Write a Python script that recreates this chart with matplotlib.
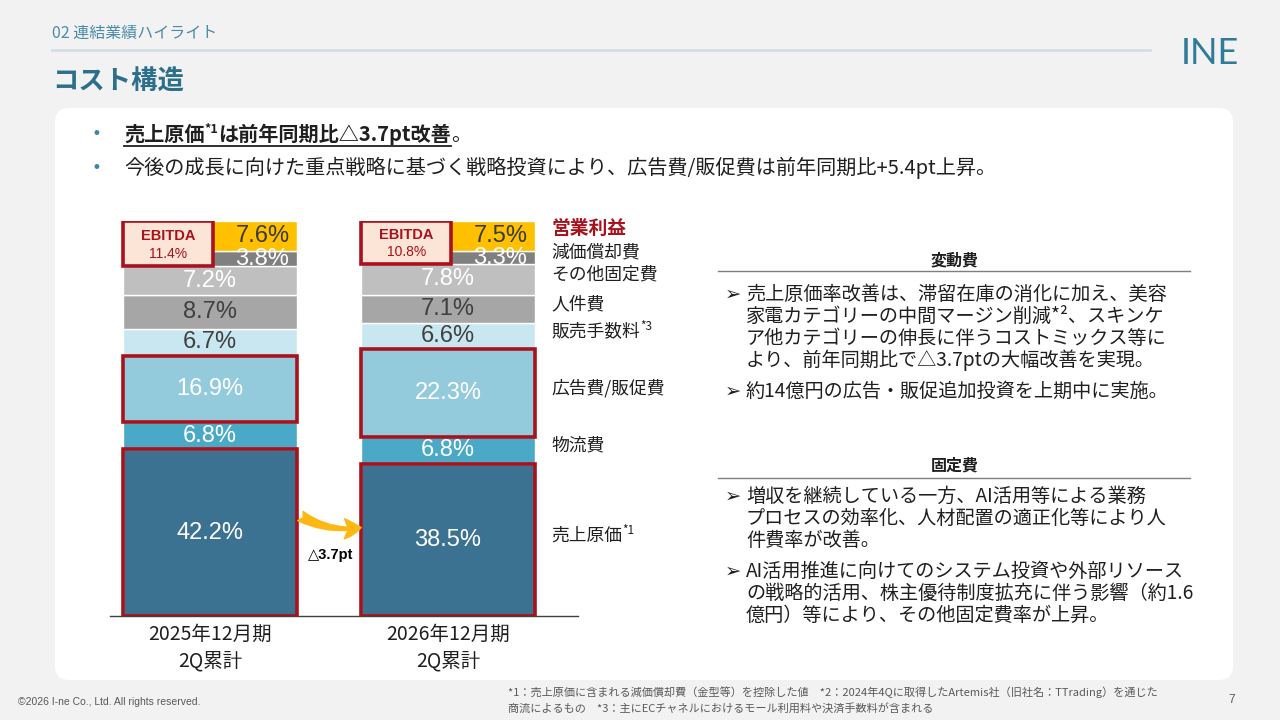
import matplotlib
matplotlib.use('Agg')
import matplotlib.pyplot as plt
from matplotlib.patches import Rectangle, FancyBboxPatch, FancyArrowPatch
import numpy as np

JP = ['Noto Sans CJK JP', 'DejaVu Sans']
NUM = ['Liberation Sans', 'DejaVu Sans']
SYM = ['DejaVu Sans', 'Noto Sans CJK JP']

# ---------------- data ----------------
periods = ['2025年12月期\n2Q累計', '2026年12月期\n2Q累計']
cost_items = ['売上原価', '物流費', '広告費/販促費', '販売手数料', '人件費',
              'その他固定費', '減価償却費', '営業利益']
item_notes = ['*1', '', '', '*3', '', '', '', '']
ratio_2025 = [42.2, 6.8, 16.9, 6.7, 8.7, 7.2, 3.8, 7.6]
ratio_2026 = [38.5, 6.8, 22.3, 6.6, 7.1, 7.8, 3.3, 7.5]

variable_bullet1 = ['売上原価率改善は、滞留在庫の消化に加え、美容',
                    '家電カテゴリーの中間マージン削減*²、スキンケ',
                    'ア他カテゴリーの伸長に伴うコストミックス等に',
                    'より、前年同期比で△{d}ptの大幅改善を実現。']
variable_bullet2 = ['約14億円の広告・販促追加投資を上期中に実施。']
fixed_bullet1 = ['増収を継続している一方、AI活用等による業務',
                 'プロセスの効率化、人材配置の適正化等により人',
                 '件費率が改善。']
fixed_bullet2 = ['AI活用推進に向けてのシステム投資や外部リソース',
                 'の戦略的活用、株主優待制度拡充に伴う影響（約1.6',
                 '億円）等により、その他固定費率が上昇。']
footnote_lines = ['*1：売上原価に含まれる減価償却費（金型等）を控除した値　*2：2024年4Qに取得したArtemis社（旧社名：TTrading）を通じた',
                  '商流によるもの　*3：主にECチャネルにおけるモール利用料や決済手数料が含まれる']

# ---------------- styles ----------------
seg_colors = ['#3B7191', '#4BA9C8', '#93CADC', '#C9E7F1', '#A6A6A6',
              '#BFBFBF', '#808080', '#FFC000']
label_colors = ['white', 'white', 'white', '#404040', '#404040',
                'white', 'white', '#3A3A3A']
RED = '#A8121C'
TEAL = '#2B6F8C'
TXT = '#1F1F1F'

fig = plt.figure(figsize=(12.8, 7.2), dpi=100)
fig.patch.set_facecolor('#F2F2F2')
bg = fig.add_axes([0, 0, 1, 1])
bg.set_xlim(0, 1280)
bg.set_ylim(720, 0)
bg.axis('off')
bg.set_zorder(0)

bg.add_patch(FancyBboxPatch((55, 108), 1178, 572,
                            boxstyle='round,pad=0,rounding_size=14',
                            fc='white', ec='none'))

# header
bg.text(52, 33, '02 連結業績ハイライト', family=JP, fontsize=11.5,
        color='#4A8CA8', va='center', ha='left')
bg.plot([52, 1150], [50, 50], color='#D3DFE4', lw=2)
bg.text(52, 82, 'コスト構造', family=JP, fontsize=19, fontweight='bold',
        color=TEAL, va='center', ha='left')
bg.text(1210, 54, 'INE', family=['Lato', 'DejaVu Sans'], fontweight='normal',
        fontsize=26, color='#2F7C99', va='center', ha='center')

renderer = fig.canvas.get_renderer()


def put_runs(x, y, runs, **kw):
    cur = x
    for s, opts in runs:
        o = dict(kw)
        o.update(opts)
        dy = o.pop('dy', 0)
        t = bg.text(cur, y + dy, s, ha='left', **o)
        bb = t.get_window_extent(renderer=renderer)
        cur += bb.width
    return cur


cogs_delta = ratio_2025[0] - ratio_2026[0]
ads_delta = ratio_2026[2] - ratio_2025[2]

# top bullets
for yy in (134, 168):
    bg.text(92, yy, '•', family=SYM, fontsize=12, color='#3E86A6',
            va='center', ha='left')
end_u = put_runs(124, 141, [('売上原価', {}),
                            ('*1', {'fontsize': 9, 'dy': -8}),
                            (f'は前年同期比△{cogs_delta:.1f}pt改善', {})],
                 family=JP, fontsize=14.5, fontweight='bold', color=TXT,
                 va='baseline')
bg.plot([124, end_u], [146, 146], color=TXT, lw=1.3)
bg.text(end_u, 141, '。', family=JP, fontsize=14.5, color=TXT,
        va='baseline', ha='left')
bg.text(124, 168,
        f'今後の成長に向けた重点戦略に基づく戦略投資により、広告費/販促費は前年同期比+{ads_delta:.1f}pt上昇。',
        family=JP, fontsize=14.5, color=TXT, va='center', ha='left')

# ---------------- chart ----------------
ax = fig.add_axes([110 / 1280, 104 / 720, 468 / 1280, 395 / 720])
ax.patch.set_alpha(0)
ax.set_zorder(2)
values = np.array([ratio_2025, ratio_2026])
bottoms = np.hstack([np.zeros((2, 1)), np.cumsum(values, axis=1)[:, :-1]])
xpos = np.arange(len(periods))
width = 0.727
for j in range(len(cost_items)):
    ax.bar(xpos, values[:, j], width, bottom=bottoms[:, j],
           color=seg_colors[j], edgecolor='white', linewidth=1, zorder=2)
ax.set_xlim(-0.4202, 1.5462)
ax.set_ylim(0, 100)

for i in range(len(periods)):
    for j in range(len(cost_items)):
        v = values[i, j]
        cy = bottoms[i, j] + v / 2
        dx = 0.22 if j >= 6 else 0
        ax.text(xpos[i] + dx, cy, f'{v:.1f}%', family=NUM, fontsize=17,
                color=label_colors[j], ha='center', va='center', zorder=6)
    for j in (0, 2):
        ax.add_patch(Rectangle((xpos[i] - width / 2, bottoms[i, j]), width,
                               values[i, j], fill=False, ec=RED, lw=2.6,
                               zorder=4))
    ebitda = values[i, 6] + values[i, 7]
    top = bottoms[i, 7] + values[i, 7]
    bw = 0.378
    ax.add_patch(Rectangle((xpos[i] - width / 2, top - ebitda), bw, ebitda,
                           fc='#FCE4D6', ec=RED, lw=2.6, zorder=5))
    ex = xpos[i] - width / 2 + bw / 2
    ax.text(ex, top - ebitda * 0.32, 'EBITDA', family=NUM, fontsize=10.5,
            fontweight='bold', color=RED, ha='center', va='center', zorder=6)
    ax.text(ex, top - ebitda * 0.72, f'{ebitda:.1f}%', family=NUM,
            fontsize=10, color=RED, ha='center', va='center', zorder=6)

for s in ('top', 'right', 'left'):
    ax.spines[s].set_visible(False)
ax.spines['bottom'].set_color('#404040')
ax.spines['bottom'].set_linewidth(1)
ax.set_yticks([])
ax.set_xticks(xpos)
ax.set_xticklabels(periods, family=JP, fontsize=14, color=TXT,
                   linespacing=1.35)
ax.tick_params(axis='x', length=0, pad=6)

# change arrow
arrow = FancyArrowPatch((0.38, 25.3), (0.635, 22.4),
                        connectionstyle='arc3,rad=0.18',
                        arrowstyle='fancy,head_length=0.5,head_width=0.6,tail_width=0.32',
                        mutation_scale=24, color='#FDB813', zorder=5,
                        shrinkA=0, shrinkB=0)
ax.add_patch(arrow)
ax.text(0.508, 15.4, f'△{cogs_delta:.1f}pt', family=NUM, fontsize=10.5,
        fontweight='bold', color='black', ha='center', va='center')

# category labels right of chart
inv = bg.transData.inverted()
for j in range(len(cost_items)):
    cy = bottoms[1, j] + values[1, j] / 2 + (2.0 if j == 7 else 1.2)
    px, py = inv.transform(ax.transData.transform((1.433, cy)))
    if j == 7:
        bg.text(px, py, cost_items[j], family=JP, fontsize=13.5,
                fontweight='bold', color=RED, va='center', ha='left',
                zorder=3)
    else:
        runs = [(cost_items[j], {})]
        if item_notes[j]:
            runs.append((item_notes[j], {'fontsize': 8.5, 'dy': -5}))
        put_runs(px, py, runs, family=JP, fontsize=12.8, color=TXT,
                 va='center')

# ---------------- right commentary ----------------
def section(title, y_title, y_line, blocks):
    bg.text(955, y_title, title, family=JP, fontsize=11.5, fontweight='bold',
            color=TXT, va='center', ha='center')
    bg.plot([718, 1190], [y_line, y_line], color='#7F7F7F', lw=1)
    for y0, lines in blocks:
        bg.text(733, y0, '➢', family=SYM, fontsize=14, color=TXT,
                va='center', ha='center')
        for k, ln in enumerate(lines):
            bg.text(746, y0 + 22 * k, ln, family=JP, fontsize=13.8,
                    color=TXT, va='center', ha='left')


vb1 = [ln.format(d=f'{cogs_delta:.1f}') for ln in variable_bullet1]
section('変動費', 260, 271, [(294, vb1), (391, variable_bullet2)])
section('固定費', 466, 478, [(496, fixed_bullet1), (571, fixed_bullet2)])

# ---------------- footer ----------------
bg.text(18, 702, '©2026 I-ne Co., Ltd. All rights reserved.', family=NUM,
        fontsize=7.5, color='#595959', va='center', ha='left')
for k, ln in enumerate(footnote_lines):
    bg.text(508, 692 + 16 * k, ln, family=JP, fontsize=8, color='#595959',
            va='center', ha='left')
bg.text(1228, 700, '7', family=NUM, fontsize=8.5, color='#595959',
        va='center', ha='left')

fig.savefig('out.png', dpi=100, facecolor=fig.get_facecolor())
